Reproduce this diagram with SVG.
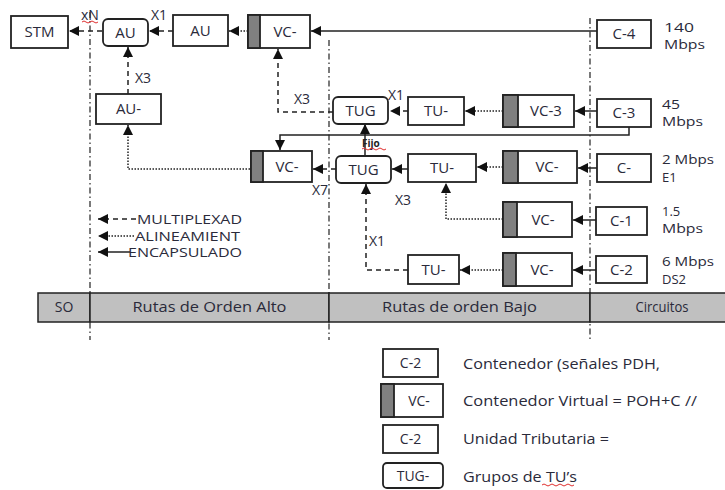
<svg xmlns="http://www.w3.org/2000/svg" width="725" height="490" viewBox="0 0 725 490">
<style>
.b{fill:#fff;stroke:#222;stroke-width:1.8}
.g{fill:#808080;stroke:#222;stroke-width:1.8}
.t{font-family:"Open Sans","Liberation Sans",sans-serif;font-size:15px;fill:#2a2a3a;text-anchor:middle}
.l{font-family:"Open Sans","Liberation Sans",sans-serif;font-size:14.5px;fill:#2a2a3a}
.s{font-family:"Open Sans","Liberation Sans",sans-serif;font-size:14px;fill:#2a2a3a}
.r{font-family:"Open Sans","Liberation Sans",sans-serif;font-size:13px;fill:#2a2a3a}
.m{font-family:"Open Sans","Liberation Sans",sans-serif;font-size:12.5px;fill:#2a2a3a}
.c{fill:none;stroke:#222;stroke-width:1.5}
.dash{stroke-dasharray:5 4}
.dot{stroke-dasharray:1.5 1.5}
.dd{fill:none;stroke:#333;stroke-width:1.3;stroke-dasharray:6 3 1.5 3}
.bar{fill:#c0c0c0;stroke:#222;stroke-width:1.5}
.red{fill:none;stroke:#e03030;stroke-width:1}
</style>
<defs>
<marker id="a" viewBox="0 0 10 10" refX="10" refY="5" markerWidth="10" markerHeight="10" markerUnits="userSpaceOnUse" orient="auto">
<path d="M0,0 L10,5 L0,10 z" fill="#111"/>
</marker>
</defs>
<g id="dividers">
<line class="dd" x1="90" y1="12" x2="90" y2="340"/>
<line class="dd" x1="329" y1="40" x2="329" y2="340"/>
<line class="dd" x1="590" y1="18" x2="590" y2="340"/>
</g>
<g id="connectors">
<line class="c dash" x1="102" y1="31" x2="69" y2="31" marker-end="url(#a)"/>
<line class="c dash" x1="173" y1="31" x2="149" y2="31" marker-end="url(#a)"/>
<line class="c dot" x1="248" y1="31" x2="229" y2="31" marker-end="url(#a)"/>
<line class="c" x1="597" y1="31" x2="311" y2="31" marker-end="url(#a)"/>
<line class="c dash" x1="128" y1="94" x2="128" y2="47" marker-end="url(#a)"/>
<polyline class="c dot" points="250,169 128,169 128,125" marker-end="url(#a)"/>
<polyline class="c dash" points="333,112 278,112 278,49" marker-end="url(#a)"/>
<line class="c dash" x1="408" y1="111" x2="390" y2="111" marker-end="url(#a)"/>
<line class="c dot" x1="503" y1="111" x2="465" y2="111" marker-end="url(#a)"/>
<line class="c" x1="597" y1="111" x2="575" y2="111" marker-end="url(#a)"/>
<polyline class="c" points="629,127 629,135 280,135 280,150" marker-end="url(#a)"/>
<line class="c" x1="365" y1="156" x2="365" y2="124" marker-end="url(#a)"/>
<line class="c dash" x1="336" y1="169" x2="313" y2="169" marker-end="url(#a)"/>
<line class="c" x1="408" y1="169" x2="392" y2="169" marker-end="url(#a)"/>
<line class="c dot" x1="503" y1="167" x2="477" y2="167" marker-end="url(#a)"/>
<line class="c" x1="597" y1="168" x2="578" y2="168" marker-end="url(#a)"/>
<polyline class="c dot" points="503,219 446,219 446,183" marker-end="url(#a)"/>
<line class="c" x1="596" y1="220" x2="573" y2="220" marker-end="url(#a)"/>
<line class="c dot" x1="503" y1="270" x2="460" y2="270" marker-end="url(#a)"/>
<line class="c" x1="596" y1="270" x2="573" y2="270" marker-end="url(#a)"/>
<polyline class="c dash" points="408,270 366,270 366,184" marker-end="url(#a)"/>
</g>
<g id="labels">
<text class="s" x="81" y="20">xN</text>
<path class="red" d="M82,22 q2,-2 4,0 t4,0 t4,0 t4,0"/>
<text class="s" x="151" y="20">X1</text>
<text class="s" x="135" y="83">X3</text>
<text class="s" x="294" y="104">X3</text>
<text class="s" x="388" y="100">X1</text>
<text x="362" y="147" style="font-family:'Open Sans','Liberation Sans',sans-serif;font-size:10px;fill:#222;font-weight:bold">Fijo</text>
<path class="red" d="M362,149 q2,-2 4,0 t4,0 t4,0 t4,0 t4,0 t4,0"/>
<text class="s" x="312" y="195">X7</text>
<text class="s" x="395" y="205">X3</text>
<text class="s" x="369" y="246">X1</text>
</g>
<g id="STM"><rect class="b" x="11" y="16" width="57" height="32"/><text class="t" x="39.5" y="37">STM</text></g>
<g id="AU1"><rect class="b" x="103" y="19" width="45" height="27" rx="5"/><text class="t" x="125.5" y="38">AU</text></g>
<g id="AU2"><rect class="b" x="173" y="15" width="55" height="31"/><text class="t" x="200.5" y="36">AU</text></g>
<g id="VCtop"><rect class="b" x="248" y="15" width="62" height="33"/><rect class="g" x="248" y="15" width="12" height="33"/><text class="t" x="285" y="37">VC-</text></g>
<g id="C4"><rect class="b" x="597" y="20" width="54" height="28"/><text class="t" x="624" y="39">C-4</text></g>
<g id="AUm"><rect class="b" x="96" y="94" width="65" height="30"/><text class="t" x="128.5" y="114">AU-</text></g>
<g id="TUGtop"><rect class="b" x="333" y="97" width="55" height="27" rx="5"/><text class="t" x="360.5" y="116">TUG</text></g>
<g id="TUtop"><rect class="b" x="408" y="97" width="56" height="28"/><text class="t" x="436" y="116">TU-</text></g>
<g id="VC3"><rect class="b" x="503" y="95" width="71" height="32"/><rect class="g" x="503" y="95" width="15" height="32"/><text class="t" x="546" y="116">VC-3</text></g>
<g id="C3"><rect class="b" x="597" y="99" width="54" height="28"/><text class="t" x="624" y="118">C-3</text></g>
<g id="VCmid"><rect class="b" x="251" y="151" width="61" height="31"/><rect class="g" x="251" y="151" width="12" height="31"/><text class="t" x="287" y="172">VC-</text></g>
<g id="TUGmid"><rect class="b" x="336" y="156" width="55" height="27" rx="5"/><text class="t" x="363.5" y="175">TUG</text></g>
<g id="TUmid"><rect class="b" x="408" y="154" width="68" height="28"/><text class="t" x="442" y="173">TU-</text></g>
<g id="VCe1"><rect class="b" x="503" y="151" width="74" height="32"/><rect class="g" x="503" y="151" width="15" height="32"/><text class="t" x="547" y="172">VC-</text></g>
<g id="C1e"><rect class="b" x="597" y="154" width="54" height="28"/><text class="t" x="624" y="173">C-</text></g>
<g id="VC15"><rect class="b" x="503" y="202" width="69" height="35"/><rect class="g" x="503" y="202" width="14" height="35"/><text class="t" x="543" y="225">VC-</text></g>
<g id="C1"><rect class="b" x="596" y="207" width="51" height="28"/><text class="t" x="621.5" y="226">C-1</text></g>
<g id="TUbot"><rect class="b" x="408" y="255" width="51" height="29"/><text class="t" x="433.5" y="275">TU-</text></g>
<g id="VC6"><rect class="b" x="503" y="253" width="69" height="33"/><rect class="g" x="503" y="253" width="13" height="33"/><text class="t" x="542" y="275">VC-</text></g>
<g id="C2"><rect class="b" x="596" y="256" width="51" height="27"/><text class="t" x="621.5" y="275">C-2</text></g>
<g id="rates">
<text class="r" x="664" y="32" textLength="30" lengthAdjust="spacingAndGlyphs">140</text><text class="r" x="664" y="49" textLength="41" lengthAdjust="spacingAndGlyphs">Mbps</text>
<text class="r" x="662" y="109" textLength="18" lengthAdjust="spacingAndGlyphs">45</text><text class="r" x="662" y="126" textLength="41" lengthAdjust="spacingAndGlyphs">Mbps</text>
<text class="r" x="662" y="164" textLength="52" lengthAdjust="spacingAndGlyphs">2 Mbps</text><text class="r" x="662" y="182">E1</text>
<text class="r" x="662" y="216">1.5</text><text class="r" x="662" y="233" textLength="41" lengthAdjust="spacingAndGlyphs">Mbps</text>
<text class="r" x="662" y="266" textLength="52" lengthAdjust="spacingAndGlyphs">6 Mbps</text><text class="r" x="662" y="284">DS2</text>
</g>
<g id="linelegend">
<line class="c dash" x1="136" y1="219" x2="98" y2="219" marker-end="url(#a)"/>
<line class="c dot" x1="134" y1="236" x2="98" y2="236" marker-end="url(#a)"/>
<line class="c" x1="130" y1="252" x2="98" y2="252" marker-end="url(#a)"/>
<text class="m" x="137" y="224" textLength="105" lengthAdjust="spacingAndGlyphs">MULTIPLEXAD</text>
<text class="m" x="135" y="241" textLength="105" lengthAdjust="spacingAndGlyphs">ALINEAMIENT</text>
<text class="m" x="128" y="257" textLength="114" lengthAdjust="spacingAndGlyphs">ENCAPSULADO</text>
</g>
<g id="bar">
<rect class="bar" x="38" y="293" width="52" height="29"/>
<rect class="bar" x="90" y="293" width="239" height="29"/>
<rect class="bar" x="329" y="293" width="261" height="29"/>
<rect class="bar" x="590" y="293" width="136" height="29"/>
<text class="t" x="64" y="312" style="font-size:14px">SO</text>
<text class="t" x="209.5" y="312" style="font-size:14px" textLength="154" lengthAdjust="spacingAndGlyphs">Rutas de Orden Alto</text>
<text class="t" x="459.5" y="312" style="font-size:14px" textLength="155" lengthAdjust="spacingAndGlyphs">Rutas de orden Bajo</text>
<text class="t" x="662" y="312" style="font-size:14px" textLength="53" lengthAdjust="spacingAndGlyphs">Circuitos</text>
</g>
<g id="legend">
<rect class="b" x="383" y="349" width="55" height="28"/><text class="t" x="410.5" y="368" style="font-size:14px">C-2</text>
<text class="l" x="463" y="369" textLength="197" lengthAdjust="spacingAndGlyphs">Contenedor  (señales PDH,</text>
<rect class="b" x="381" y="384" width="62" height="33"/><rect class="g" x="381" y="384" width="13" height="33"/><text class="t" x="419" y="406" style="font-size:14px">VC-</text>
<text class="l" x="463" y="406" textLength="234" lengthAdjust="spacingAndGlyphs">Contenedor  Virtual = POH+C //</text>
<rect class="b" x="383" y="425" width="55" height="28"/><text class="t" x="410.5" y="444" style="font-size:14px">C-2</text>
<text class="l" x="463" y="444" textLength="146" lengthAdjust="spacingAndGlyphs">Unidad Tributaria =</text>
<rect class="b" x="383" y="463" width="60" height="25" rx="4"/><text class="t" x="413" y="481" style="font-size:14px">TUG-</text>
<text class="l" x="463" y="482" textLength="114" lengthAdjust="spacingAndGlyphs">Grupos de TU’s</text>
<path class="red" d="M542,485 q2,-2 4,0 t4,0 t4,0 t4,0 t4,0 t4,0 t4,0 t4,0"/>
</g>
</svg>
